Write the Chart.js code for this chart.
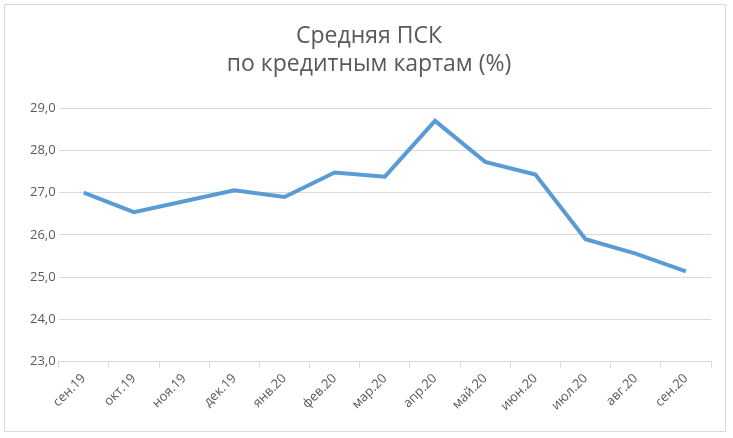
<!DOCTYPE html>
<html><head><meta charset="utf-8">
<script src="https://cdn.jsdelivr.net/npm/chart.js@4"></script>
<style>body{margin:0;background:#fff}#w{position:absolute;left:4px;top:4px;width:722px;height:428px;border:1px solid #d9d9d9;box-sizing:border-box}</style>
</head><body><div id="w"><canvas id="c"></canvas></div>
<script>
const categories=["сен.19","окт.19","ноя.19","дек.19","янв.20","фев.20","мар.20","апр.20","май.20","июн.20","июл.20","авг.20","сен.20"];
const values=[27.0,26.54,26.8,27.06,26.9,27.48,27.38,28.7,27.73,27.43,25.9,25.56,25.14];
const titleLines=["Средняя ПСК","по кредитным картам (%)"];
new Chart(document.getElementById('c'),{type:'line',
data:{labels:categories,datasets:[{data:values,borderColor:'#5B9BD5',borderWidth:4,pointRadius:0,tension:0,fill:false}]},
options:{responsive:true,maintainAspectRatio:false,animation:false,
layout:{padding:{left:22,right:14,top:12,bottom:14}},
plugins:{legend:{display:false},tooltip:{enabled:false},
title:{display:true,text:titleLines,color:'#595959',font:{family:'Open Sans',size:23,weight:'normal'},padding:{top:6,bottom:30},lineHeight:1.45}},
scales:{
x:{offset:true,grid:{display:true,offset:true,drawOnChartArea:false,tickLength:6,color:'#d9d9d9'},border:{color:'#d9d9d9'},
ticks:{color:'#595959',font:{family:'Open Sans',size:13},maxRotation:45,minRotation:45,autoSkip:false}},
y:{min:23,max:29,ticks:{stepSize:1,color:'#595959',font:{family:'Open Sans',size:13},callback:v=>v.toFixed(1).replace('.',',')},
grid:{color:'#d9d9d9',tickLength:8,drawTicks:false},border:{display:false}}}}});
</script></body></html>
